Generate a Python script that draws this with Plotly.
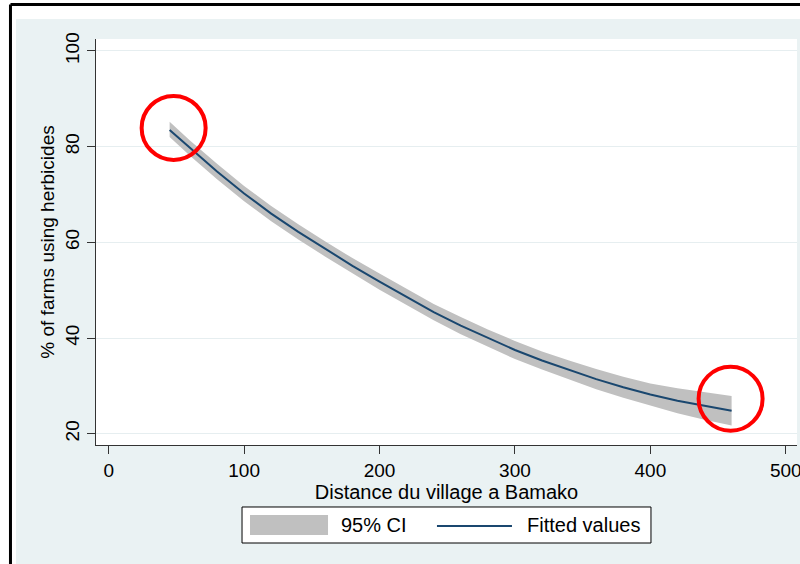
import plotly.graph_objects as go

# ---- data ----
distance = [45, 60, 80, 100, 120, 140, 160, 180, 200, 220, 240,
            260, 280, 300, 320, 340, 360, 380, 400, 420, 440, 460]
fitted = [83.5, 79.7, 74.8, 70.2, 66.0, 62.2, 58.6, 55.1, 51.8, 48.6, 45.4,
          42.6, 40.0, 37.5, 35.3, 33.3, 31.4, 29.7, 28.2, 26.9, 25.8, 24.8]
ci_low = [82.0, 78.1, 73.2, 68.6, 64.4, 60.6, 57.0, 53.5, 50.1, 46.9, 43.7,
          40.8, 38.2, 35.6, 33.4, 31.3, 29.3, 27.5, 25.9, 24.3, 22.9, 21.7]
ci_high = [85.2, 81.3, 76.4, 71.8, 67.6, 63.8, 60.2, 56.7, 53.5, 50.3, 47.1,
           44.4, 41.8, 39.4, 37.2, 35.3, 33.5, 31.9, 30.5, 29.5, 28.7, 27.9]
x_ticks = [0, 100, 200, 300, 400, 500]
y_ticks = [20, 40, 60, 80, 100]
legend_labels = ["95% CI", "Fitted values"]

FONT = "Liberation Sans, Arial, Helvetica, sans-serif"
BAND = "#C0C0C0"
LINE = "#1A476F"
BG = "#EAF2F3"

fig = go.Figure()
fig.add_trace(go.Scatter(x=distance, y=ci_low, mode="lines",
                         line=dict(width=0, color=BAND),
                         showlegend=False, hoverinfo="skip"))
fig.add_trace(go.Scatter(x=distance, y=ci_high, mode="lines",
                         line=dict(width=0, color=BAND),
                         fill="tonexty", fillcolor=BAND, name=legend_labels[0],
                         showlegend=False))
fig.add_trace(go.Scatter(x=distance, y=fitted, mode="lines",
                         line=dict(width=2, color=LINE), name=legend_labels[1],
                         showlegend=False))

# red circles highlighting the two ends of the curve
fig.add_shape(type="circle", xref="x", yref="y",
              xsizemode="pixel", ysizemode="pixel",
              xanchor=distance[0], yanchor=fitted[0],
              x0=-28, x1=36, y0=-30, y1=34,
              line=dict(color="#FF0000", width=4), layer="above")
fig.add_shape(type="circle", xref="x", yref="y",
              xsizemode="pixel", ysizemode="pixel",
              xanchor=distance[-1], yanchor=fitted[-1],
              x0=-33, x1=31, y0=-20, y1=44,
              line=dict(color="#FF0000", width=4), layer="above")

# white outer strips (paper background is the light bluish graph region)
fig.add_shape(type="rect", xref="paper", yref="paper",
              x0=-0.2, x1=1.02, y0=1.0493, y1=1.2,
              fillcolor="white", line=dict(width=0), layer="below")
fig.add_shape(type="rect", xref="paper", yref="paper",
              x0=-0.2, x1=-0.1141, y0=-0.4, y1=1.2,
              fillcolor="white", line=dict(width=0), layer="below")
# black frame lines
fig.add_shape(type="line", xref="paper", yref="paper",
              x0=-0.122, x1=1.02, y0=1.085, y1=1.085,
              line=dict(color="black", width=3), layer="above")
fig.add_shape(type="line", xref="paper", yref="paper",
              x0=-0.122, x1=-0.122, y0=-0.4, y1=1.085,
              line=dict(color="black", width=3), layer="above")

# legend (drawn as a boxed key below the plot)
fig.add_shape(type="rect", xref="paper", yref="paper",
              x0=0.2083, x1=0.7917, y0=-0.2414, y1=-0.1527,
              fillcolor="white", line=dict(color="black", width=1), layer="above")
fig.add_shape(type="rect", xref="paper", yref="paper",
              x0=0.2197, x1=0.3310, y0=-0.2217, y1=-0.1724,
              fillcolor=BAND, line=dict(width=0), layer="above")
fig.add_shape(type="line", xref="paper", yref="paper",
              x0=0.4864, x1=0.5934, y0=-0.1995, y1=-0.1995,
              line=dict(color=LINE, width=2), layer="above")
fig.add_annotation(xref="paper", yref="paper", x=0.3466, y=-0.1970,
                   xanchor="left", yanchor="middle", showarrow=False,
                   text=legend_labels[0], font=dict(family=FONT, size=20, color="black"))
fig.add_annotation(xref="paper", yref="paper", x=0.6120, y=-0.1970,
                   xanchor="left", yanchor="middle", showarrow=False,
                   text=legend_labels[1], font=dict(family=FONT, size=20, color="black"))

fig.update_layout(
    width=800, height=564,
    margin=dict(l=96, r=3, t=39, b=119, autoexpand=False),
    paper_bgcolor=BG, plot_bgcolor="white",
    font=dict(family=FONT, size=19, color="black"),
    showlegend=False,
    xaxis=dict(range=[-9.38, 508.3], tickvals=x_ticks, automargin=False,
               ticklabeloverflow="allow",
               ticks="outside", ticklen=8, tickcolor="#333333",
               showline=True, linecolor="#333333", linewidth=1,
               showgrid=False, zeroline=False,
               title=dict(text="Distance du village a Bamako", standoff=0,
                          font=dict(family=FONT, size=20, color="black")),
               tickfont=dict(size=19)),
    yaxis=dict(range=[17.64, 102.5], tickvals=y_ticks, tickangle=-90,
               automargin=False, ticklabeloverflow="allow",
               ticks="outside", ticklen=8, tickcolor="#333333",
               showline=True, linecolor="#333333", linewidth=1,
               showgrid=True, gridcolor="#E6EEF0", gridwidth=1,
               zeroline=False,
               title=dict(text="% of farms using herbicides", standoff=2,
                          font=dict(family=FONT, size=19, color="black")),
               tickfont=dict(size=19)),
)

fig.write_html("out.html", config={"displayModeBar": False},
               post_script="document.body.style.margin='0';document.body.style.overflow='hidden';")
